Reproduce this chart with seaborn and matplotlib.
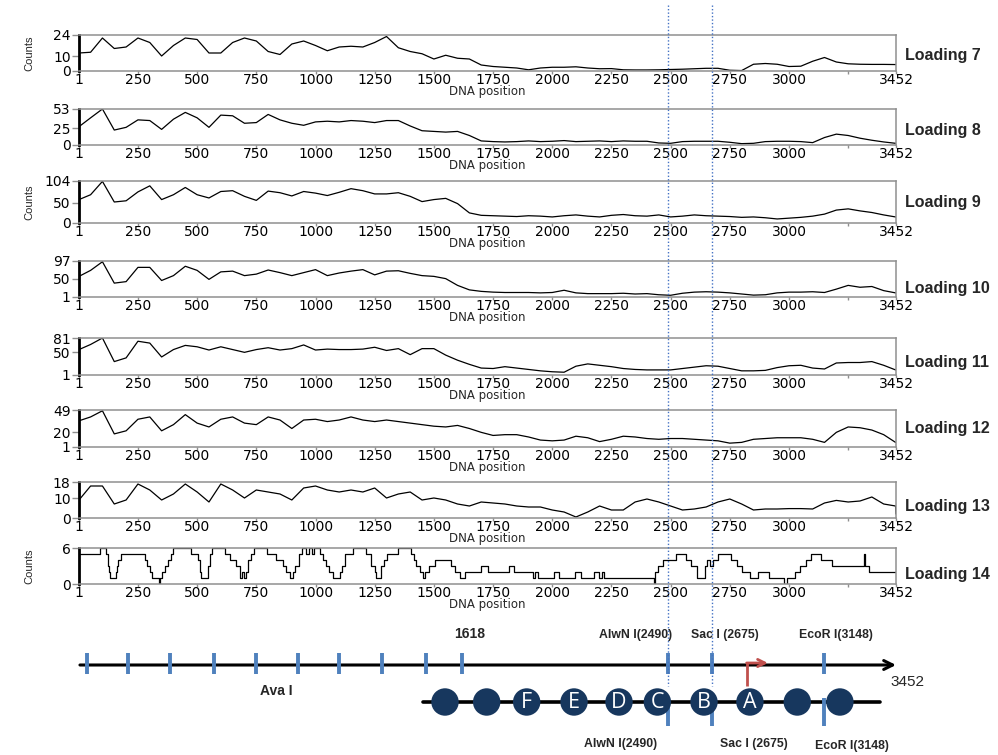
import matplotlib
matplotlib.use("Agg")
import matplotlib.pyplot as plt
import seaborn as sns
import pandas as pd
from matplotlib.lines import Line2D
from matplotlib.transforms import blended_transform_factory

sns.set_theme(style="white")
plt.rcParams['font.family'] = ['DejaVu Sans']

# ---------------------------------------------------------------- data
dna_pos = [1] + list(range(50, 3451, 50)) + [3452]

loading7 = [12, 12.5, 22, 15, 16, 22, 19, 10, 17, 22,
            21, 12, 12, 19, 22, 20, 13, 11, 18, 20,
            17, 13.5, 16, 16.5, 16, 19, 23, 15.5, 13, 11.5,
            8, 10.5, 8.5, 8, 4, 3, 2.5, 2, 0.8, 2,
            2.5, 2.5, 2.8, 2, 1.5, 1.6, 0.8, 0.7, 0.7, 0.8,
            1, 1.2, 1.5, 1.8, 1.8, 0.5, 0.3, 4.5, 5, 4.5,
            3, 3.2, 6.5, 9, 6, 4.8, 4.5, 4.4, 4.4, 4.3,
            4.3]
loading8 = [27, 40, 53, 22, 26, 37, 36, 23, 38, 48,
            40, 26, 44, 43, 32, 33, 45, 37, 32, 29,
            34, 35, 34, 36, 35, 33, 36, 36, 28, 21,
            20, 19, 20, 14, 6, 5, 4.5, 5, 6, 5,
            5.5, 6.5, 5, 5.5, 6, 5, 6, 5.5, 5.5, 3,
            2.5, 5, 5.5, 5.5, 5.5, 4, 2, 2.5, 5, 5.5,
            5.5, 5, 3.5, 11, 16, 14, 10, 7, 4.5, 2.5,
            2.5]
loading9 = [58, 70, 103, 52, 55, 77, 92, 58, 70, 88,
            70, 62, 78, 80, 66, 56, 79, 75, 67, 78,
            74, 68, 76, 85, 80, 72, 72, 75, 66, 53,
            58, 61, 48, 25, 19, 18, 17, 16, 18, 17,
            15, 18, 20, 17, 15, 19, 21, 18, 17, 20,
            15, 17, 20, 18, 17, 16, 14, 15, 13, 10,
            12, 14, 17, 22, 32, 35, 30, 26, 20, 15,
            15]
loading10 = [56, 72, 95, 38, 42, 80, 80, 45, 58, 83,
             72, 48, 68, 70, 58, 62, 73, 66, 58, 66,
             74, 58, 65, 70, 74, 60, 70, 71, 64, 58,
             56, 50, 32, 20, 16, 14, 13, 13, 13, 12,
             13, 19, 12, 10, 10, 10, 11, 9, 10, 7,
             5.6, 11, 14, 15, 14, 12, 9, 6, 7, 12,
             14, 14, 15, 13, 22, 32, 27, 29, 18, 12,
             12]
loading11 = [56, 67, 81, 30, 38, 74, 70, 40, 56, 65,
             62, 55, 62, 56, 50, 56, 60, 55, 58, 66,
             55, 57, 56, 56, 57, 61, 54, 58, 45, 58,
             58, 44, 33, 24, 16, 15, 19, 16, 13, 10,
             8, 7, 20, 25, 22, 19, 15, 13, 12, 12,
             12, 15, 18, 21, 20, 15, 10, 10, 11, 17,
             21, 22, 16, 14, 27, 28, 28, 30, 22, 12,
             12]
loading12 = [35, 40, 48, 18, 22, 37, 40, 22, 30, 43,
             32, 27, 37, 40, 32, 30, 40, 36, 25, 36,
             37, 34, 36, 40, 36, 34, 36, 34, 32, 30,
             28, 27, 29, 25, 20, 16, 17, 17, 14, 10,
             9, 10, 15, 13, 8, 11, 15, 14, 12, 11,
             12, 12, 11, 10, 9, 6, 7, 11, 12, 13,
             13, 13, 11, 7, 20, 27, 26, 23, 17, 7,
             7]
loading13 = [9, 16, 16, 7, 9, 17, 14, 9, 12, 17,
             13, 8, 17, 14, 10, 14, 13, 12, 9, 15,
             16, 14, 13, 14, 13, 15, 10, 12, 13, 9,
             10, 9, 7, 6, 8, 7.5, 7, 6, 5.5, 5.5,
             4, 3, 0.5, 3, 6, 4, 4, 8, 9.5, 8,
             6, 4, 4.5, 5.5, 8, 9.5, 7, 4, 4.5, 4.5,
             4.7, 4.7, 4.5, 7.5, 8.8, 8, 8.5, 10.5, 7, 6,
             2]

# Loading 14 is a step trace: start position of each run and its count
loading14_pos = [1, 89, 114, 124, 128, 131, 156, 161, 166, 180, 279, 290, 300, 310,
                 340, 345, 352, 365, 378, 390, 398, 476, 504, 511, 518, 546, 556, 562,
                 617, 638, 665, 680, 690, 700, 705, 715, 728, 742, 793, 835, 863, 875,
                 891, 905, 915, 930, 945, 960, 972, 985, 993, 1018, 1032, 1046, 1058,
                 1074, 1102, 1110, 1124, 1159, 1215, 1235, 1250, 1257, 1278, 1288, 1300,
                 1349, 1405, 1415, 1426, 1440, 1455, 1462, 1478, 1504, 1574, 1590, 1610,
                 1630, 1700, 1728, 1817, 1840, 1918, 1929, 1940, 2007, 2030, 2097, 2120,
                 2175, 2198, 2210, 2220, 2428, 2432, 2445, 2466, 2522, 2567, 2585, 2612,
                 2645, 2655, 2667, 2678, 2701, 2757, 2780, 2800, 2836, 2869, 2914, 2981,
                 2992, 3025, 3048, 3070, 3093, 3137, 3182, 3317, 3322, 3339, 3452]
loading14_cnt = [5, 6, 5, 3, 2, 1, 2, 3, 4, 5, 4, 3, 2, 1,
                 0, 1, 2, 3, 4, 5, 6, 5, 4, 2, 1, 3, 5, 6,
                 5, 4, 3, 1, 2, 1, 2, 4, 5, 6, 5, 4, 3, 2,
                 1, 2, 3, 5, 6, 5, 6, 5, 6, 5, 4, 3, 2,
                 1, 2, 3, 5, 6, 5, 3, 2, 1, 3, 4, 5,
                 6, 5, 4, 3, 2, 1, 2, 3, 4, 3, 2, 1,
                 2, 3, 2, 3, 2, 1, 2, 1, 2, 1, 2, 1,
                 2, 1, 2, 1, 0, 2, 3, 4, 5, 4, 3, 1,
                 3, 4, 3, 4, 5, 4, 3, 2, 1, 2, 1, 0,
                 1, 2, 3, 4, 5, 4, 3, 5, 3, 2, 2]

panel_names = ["Loading 7", "Loading 8", "Loading 9", "Loading 10",
               "Loading 11", "Loading 12", "Loading 13", "Loading 14"]
panel_yticks = [[0, 10, 24], [0, 25, 53], [0, 50, 104], [1, 50, 97],
                [1, 50, 81], [1, 20, 49], [0, 10, 18], [0, 6]]
series = [loading7, loading8, loading9, loading10, loading11, loading12, loading13]

x_ticks = [1, 250, 500, 750, 1000, 1250, 1500, 1750, 2000, 2250, 2500, 2750, 3000, 3250, 3452]
x_ticklabels = ["1", "250", "500", "750", "1000", "1250", "1500", "1750", "2000",
                "2250", "2500", "2750", "3000", "", "3452"]

# restriction map
ava_sites = [35, 208, 385, 570, 750, 925, 1100, 1280, 1465, 1618]
alwn_site, sac_site, ecor_site = 2490, 2675, 3148
nucleosomes = [1547, 1723, 1892, 2092, 2282, 2444, 2641, 2835, 3035, 3215]
nuc_labels = ["", "", "F", "E", "D", "C", "B", "A", "", ""]
nuc_track = (1454, 3384)
tss = 2821
seq_len = 3452

# ---------------------------------------------------------------- layout
W, H = 998, 755
fig = plt.figure(figsize=(W / 100, H / 100), dpi=100)


def px_axes(l, t, r, b):
    return fig.add_axes([l / W, 1 - b / H, (r - l) / W, (b - t) / H])


x_l, x_r = 79, 896
panel_px = [(35, 71), (109, 145), (181, 223), (261, 297),
            (338, 375), (410, 447), (482, 518), (548, 584)]
label_frac = [0.42, 0.39, 0.48, 0.25, 0.35, 0.5, 0.33, 0.25]
counts_on = [True, False, True, False, False, False, False, True]

frame_col = "#8f8f8f"
axes = []
for i, (top, bot) in enumerate(panel_px):
    ax = px_axes(x_l, top, x_r, bot)
    axes.append(ax)
    if i < 7:
        df = pd.DataFrame({"pos": dna_pos, "count": series[i]})
        sns.lineplot(data=df, x="pos", y="count", ax=ax, color="black",
                     lw=0.9, estimator=None)
    else:
        df = pd.DataFrame({"pos": loading14_pos, "count": loading14_cnt})
        sns.lineplot(data=df, x="pos", y="count", ax=ax, color="black",
                     lw=0.9, estimator=None, drawstyle="steps-post")
    yt = panel_yticks[i]
    ax.set_xlim(1, seq_len)
    ax.set_ylim(yt[0], yt[-1])
    ax.set_xticks(x_ticks)
    ax.set_xticklabels(x_ticklabels)
    ax.set_yticks(yt)
    ax.tick_params(axis="x", bottom=True, length=2.5, width=1, color=frame_col,
                   pad=-1.2, labelsize=10, labelcolor="black")
    ax.tick_params(axis="y", left=True, length=5, width=1, color=frame_col,
                   pad=1, labelsize=10, labelcolor="black")
    for s in ("top", "right", "bottom"):
        ax.spines[s].set_color(frame_col)
        ax.spines[s].set_linewidth(1.1)
    ax.spines["left"].set_color("black")
    ax.spines["left"].set_linewidth(2)
    ax.set_xlabel("DNA position", fontsize=8.5, labelpad=-1.0)
    ax.set_ylabel("")
    ax.text(1.011, label_frac[i], panel_names[i], transform=ax.transAxes,
            ha="left", va="center", fontsize=11.5, fontweight="bold",
            family=["Liberation Sans", "DejaVu Sans"])
    if counts_on[i]:
        fig.text(29 / W, 1 - (top + bot) / 2 / H, "Counts", rotation=90,
                 ha="center", va="center", fontsize=8,
                 family=["Liberation Sans Narrow", "Liberation Sans"])

# ---------------------------------------------------------------- restriction map
dg = px_axes(x_l, 600, x_r, 755)
dg.set_xlim(1, seq_len)
dg.set_ylim(755, 600)
dg.axis("off")

site_blue = "#4f81bd"
arial = ["Liberation Sans", "DejaVu Sans"]

dg.annotate("", xy=(seq_len, 665), xytext=(5, 665),
            arrowprops=dict(arrowstyle="->", lw=2.2, color="black",
                            mutation_scale=16, shrinkA=0, shrinkB=0))
for s in ava_sites + [alwn_site, sac_site, ecor_site]:
    dg.plot([s, s], [653, 674], color=site_blue, lw=2.8,
            solid_capstyle="butt", zorder=3)

# nucleosome track
dg.plot(list(nuc_track), [702, 702], color="black", lw=2.6, zorder=2)
for s, y0 in ((alwn_site, 700), (sac_site, 700), (ecor_site, 698)):
    dg.plot([s, s], [y0, 726], color=site_blue, lw=2.8,
            solid_capstyle="butt", zorder=3)
dg.scatter(nucleosomes, [702] * len(nucleosomes), s=390, color="#17375e",
           edgecolor="none", zorder=4, clip_on=False)
for p, lab in zip(nucleosomes, nuc_labels):
    if lab:
        dg.text(p, 703, lab, color="white", ha="center", va="center",
                fontsize=15.5, family=["Open Sans", "DejaVu Sans"], zorder=5)

# transcription start
dg.plot([tss, tss], [686, 663], color="#c0504d", lw=2, zorder=5,
        solid_capstyle="butt")
dg.annotate("", xy=(tss + 90, 663), xytext=(tss, 663),
            arrowprops=dict(arrowstyle="->", lw=2, color="#c0504d",
                            mutation_scale=13, shrinkA=0, shrinkB=0), zorder=5)

lab_kw = dict(textcoords="offset pixels", ha="center", va="center",
              fontweight="bold", family=arial, annotation_clip=False)
dg.annotate("1618", xy=(ava_sites[-1], 634), xytext=(8, 0), fontsize=10, **lab_kw)
dg.annotate("Ava I", xy=(ava_sites[4], 691), xytext=(20, 0), fontsize=10, **lab_kw)
dg.annotate("AlwN I(2490)", xy=(alwn_site, 635), xytext=(-33, 0), fontsize=8.8, **lab_kw)
dg.annotate("Sac I (2675)", xy=(sac_site, 635), xytext=(13, 0), fontsize=8.8, **lab_kw)
dg.annotate("EcoR I(3148)", xy=(ecor_site, 635), xytext=(12, 0), fontsize=8.8, **lab_kw)
dg.annotate("AlwN I(2490)", xy=(alwn_site, 744), xytext=(-48, 0), fontsize=8.8, **lab_kw)
dg.annotate("Sac I (2675)", xy=(sac_site, 744), xytext=(42, 0), fontsize=8.8, **lab_kw)
dg.annotate("EcoR I(3148)", xy=(ecor_site, 746), xytext=(28, 0), fontsize=8.8, **lab_kw)
dg.annotate("3452", xy=(seq_len, 682), xytext=(11, 0), textcoords="offset pixels",
            ha="center", va="center", fontsize=11, family=arial,
            annotation_clip=False)

# dotted guides through every panel at the AlwN I and Sac I sites
guide_tr = blended_transform_factory(dg.transData, fig.transFigure)
for s in (alwn_site, sac_site):
    fig.add_artist(Line2D([s, s], [1 - 5 / H, 1 - 686 / H], transform=guide_tr,
                          color="#4472c4", lw=1, ls=(0, (1, 1.5)), zorder=10))

fig.savefig("out.png", dpi=100)
